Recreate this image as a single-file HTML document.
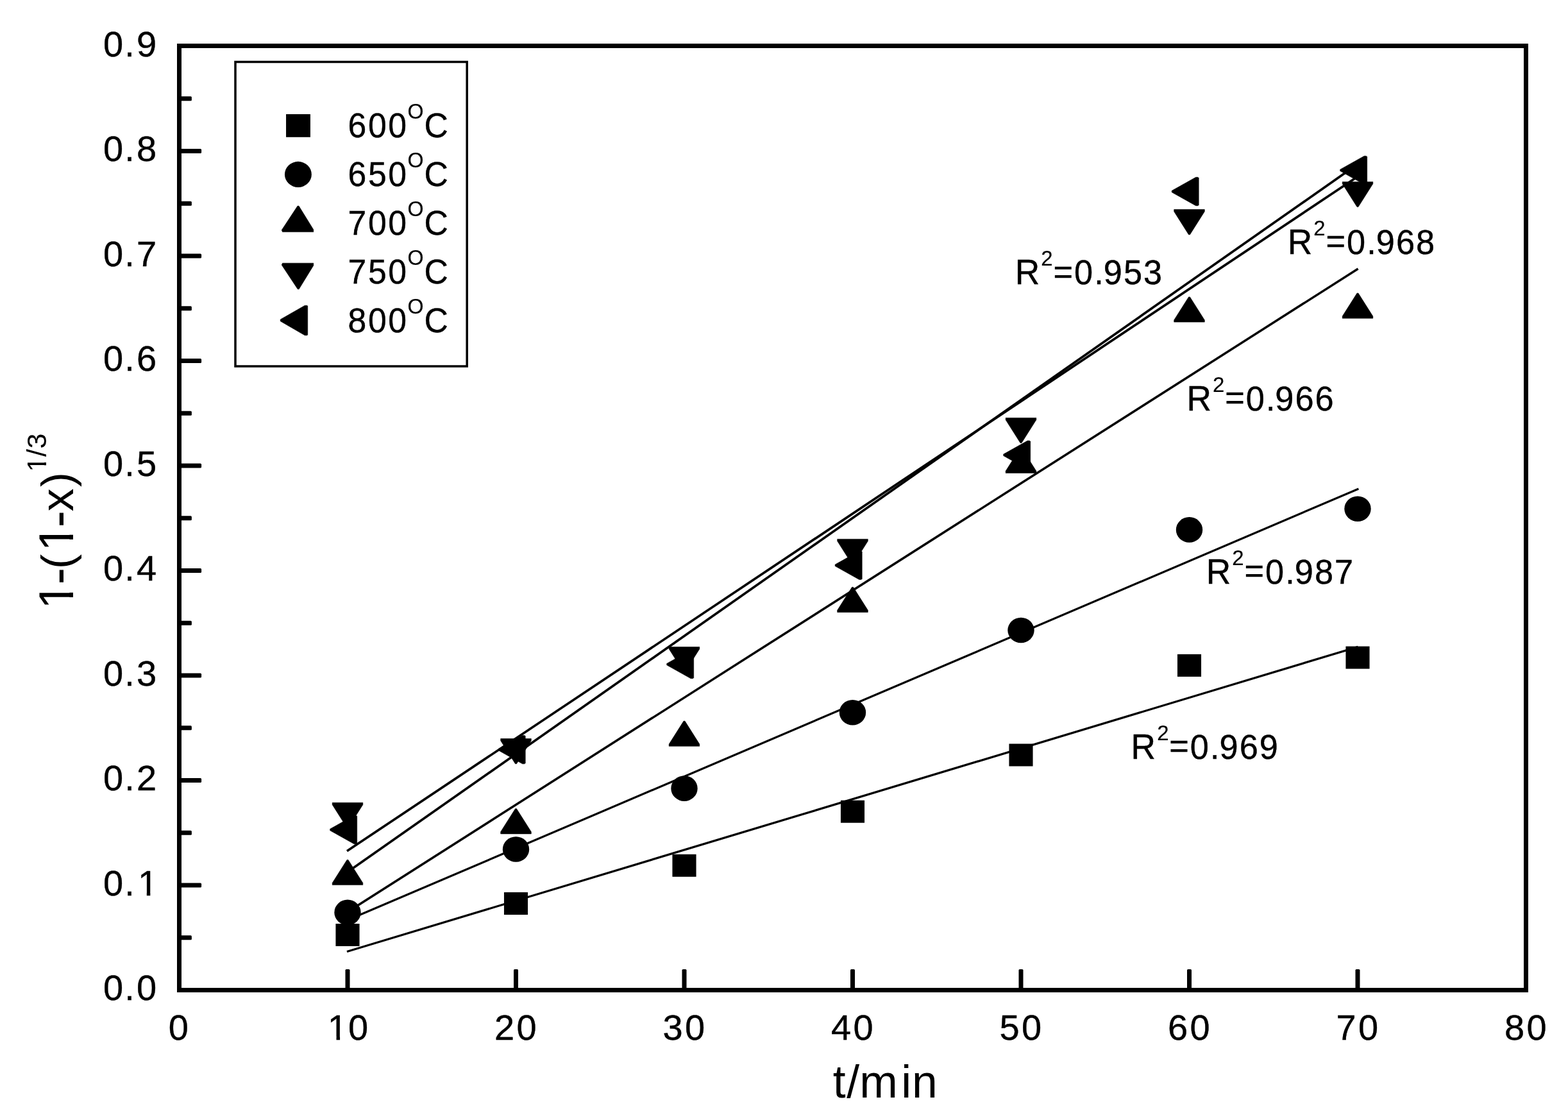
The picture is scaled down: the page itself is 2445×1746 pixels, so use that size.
<!DOCTYPE html>
<html lang="en"><head><meta charset="utf-8"><title>1-(1-x)1/3 - t/min</title>
<style>
html,body{margin:0;padding:0;background:#fff;}
body{width:2445px;height:1746px;overflow:hidden;}
svg{display:block;}
text{font-family:"Liberation Sans",sans-serif;fill:#000;stroke:#000;stroke-width:0.4px;white-space:pre;}
.m{fill:#000;stroke:#000;stroke-width:0.6px;stroke-linejoin:round;}
.k{fill:#fff;stroke:none;}
text.t0{stroke:none;}
</style></head><body>
<svg width="2445" height="1746" viewBox="0 0 2445 1746">
<rect x="0" y="0" width="2445" height="1746" fill="#fff"/>
<g stroke="#000" fill="none">
<line x1="541" y1="1326.8" x2="2117.5" y2="275" stroke-width="3.7"/>
<line x1="541" y1="1360" x2="2117.5" y2="255.5" stroke-width="3.7"/>
<line x1="541" y1="1422.2" x2="2117.6" y2="419" stroke-width="3.5"/>
<line x1="541" y1="1434.8" x2="2118.4" y2="762" stroke-width="3.2"/>
<line x1="541" y1="1483.5" x2="2117.5" y2="1008.3" stroke-width="3.3"/>
</g>
<g fill="#000">
<rect x="523.45" y="1440" width="37.1" height="35"/>
<rect x="785.95" y="1391" width="37.1" height="35"/>
<rect x="1048.45" y="1331.8" width="37.1" height="35"/>
<rect x="1310.95" y="1247.7" width="37.1" height="35"/>
<rect x="1573.45" y="1159.5" width="37.1" height="35"/>
<rect x="1835.95" y="1019.9" width="37.1" height="35"/>
<rect x="2098.45" y="1007.6" width="37.1" height="35"/>
<ellipse cx="542" cy="1422.4" rx="20.7" ry="19.8"/>
<ellipse cx="804.5" cy="1324" rx="20.7" ry="19.8"/>
<ellipse cx="1067" cy="1229.1" rx="20.7" ry="19.8"/>
<ellipse cx="1329.5" cy="1110.7" rx="20.7" ry="19.8"/>
<ellipse cx="1592" cy="982.5" rx="20.7" ry="19.8"/>
<ellipse cx="1854.5" cy="825.9" rx="20.7" ry="19.8"/>
<ellipse cx="2117" cy="793.2" rx="20.7" ry="19.8"/>
</g>
<g class="m">
<polygon points="541,1340.4 543,1340.4 565.8,1376.4 565.8,1379.6 518.2,1379.6 518.2,1376.4"/>
<polygon points="803.5,1260.7 805.5,1260.7 828.3,1296.7 828.3,1299.9 780.7,1299.9 780.7,1296.7"/>
<polygon points="1066,1124.1 1068,1124.1 1090.8,1160.1 1090.8,1163.3 1043.2,1163.3 1043.2,1160.1"/>
<polygon points="1328.5,915.3 1330.5,915.3 1353.3,951.3 1353.3,954.5 1305.7,954.5 1305.7,951.3"/>
<polygon points="1591,698.3 1593,698.3 1615.8,734.3 1615.8,737.5 1568.2,737.5 1568.2,734.3"/>
<polygon points="1853.5,462.9 1855.5,462.9 1878.3,498.9 1878.3,502.1 1830.7,502.1 1830.7,498.9"/>
<polygon points="2116,457 2118,457 2140.8,493 2140.8,496.2 2093.2,496.2 2093.2,493"/>
<polygon points="541,1290.5 543,1290.5 565.8,1254.5 565.8,1251.3 518.2,1251.3 518.2,1254.5"/>
<polygon points="803.5,1190.7 805.5,1190.7 828.3,1154.7 828.3,1151.5 780.7,1151.5 780.7,1154.7"/>
<polygon points="1066,1047.7 1068,1047.7 1090.8,1011.7 1090.8,1008.5 1043.2,1008.5 1043.2,1011.7"/>
<polygon points="1328.5,879.6 1330.5,879.6 1353.3,843.6 1353.3,840.4 1305.7,840.4 1305.7,843.6"/>
<polygon points="1591,690.6 1593,690.6 1615.8,654.6 1615.8,651.4 1568.2,651.4 1568.2,654.6"/>
<polygon points="1853.5,365.8 1855.5,365.8 1878.3,329.8 1878.3,326.6 1830.7,326.6 1830.7,329.8"/>
<polygon points="2116,322.6 2118,322.6 2140.8,286.6 2140.8,283.4 2093.2,283.4 2093.2,286.6"/>
<polygon points="514.7,1292.3 514.7,1294.7 552.2,1315.7 555.5,1315.7 556.7,1314.5 556.7,1272.5 555.5,1271.3 552.2,1271.3"/>
<polygon points="777.2,1167.4 777.2,1169.8 814.7,1190.8 818,1190.8 819.2,1189.6 819.2,1147.6 818,1146.4 814.7,1146.4"/>
<polygon points="1039.7,1034.4 1039.7,1036.8 1077.2,1057.8 1080.5,1057.8 1081.7,1056.6 1081.7,1014.6 1080.5,1013.4 1077.2,1013.4"/>
<polygon points="1302.2,880.1 1302.2,882.5 1339.7,903.5 1343,903.5 1344.2,902.3 1344.2,860.3 1343,859.1 1339.7,859.1"/>
<polygon points="1564.7,708.1 1564.7,710.5 1602.2,731.5 1605.5,731.5 1606.7,730.3 1606.7,688.3 1605.5,687.1 1602.2,687.1"/>
<polygon points="1827.2,297.3 1827.2,299.7 1864.7,320.7 1868,320.7 1869.2,319.5 1869.2,277.5 1868,276.3 1864.7,276.3"/>
<polygon points="2089.7,264.2 2089.7,266.6 2127.2,287.6 2130.5,287.6 2131.7,286.4 2131.7,244.4 2130.5,243.2 2127.2,243.2"/>
</g>
<rect x="279.5" y="71.5" width="2100" height="1472" fill="none" stroke="#000" stroke-width="7"/>
<g fill="#000">
<rect x="279.5" y="1458.34" width="19.4" height="7" rx="1.6"/>
<rect x="279.5" y="1376.59" width="34.6" height="7" rx="1.6"/>
<rect x="279.5" y="1294.83" width="19.4" height="7" rx="1.6"/>
<rect x="279.5" y="1213.08" width="34.6" height="7" rx="1.6"/>
<rect x="279.5" y="1131.32" width="19.4" height="7" rx="1.6"/>
<rect x="279.5" y="1049.57" width="34.6" height="7" rx="1.6"/>
<rect x="279.5" y="967.81" width="19.4" height="7" rx="1.6"/>
<rect x="279.5" y="886.06" width="34.6" height="7" rx="1.6"/>
<rect x="279.5" y="804.3" width="19.4" height="7" rx="1.6"/>
<rect x="279.5" y="722.55" width="34.6" height="7" rx="1.6"/>
<rect x="279.5" y="640.79" width="19.4" height="7" rx="1.6"/>
<rect x="279.5" y="559.04" width="34.6" height="7" rx="1.6"/>
<rect x="279.5" y="477.28" width="19.4" height="7" rx="1.6"/>
<rect x="279.5" y="395.53" width="34.6" height="7" rx="1.6"/>
<rect x="279.5" y="313.78" width="19.4" height="7" rx="1.6"/>
<rect x="279.5" y="232.02" width="34.6" height="7" rx="1.6"/>
<rect x="279.5" y="150.26" width="19.4" height="7" rx="1.6"/>
<rect x="538.5" y="1510.9" width="7" height="32.6" rx="1.6"/>
<rect x="801" y="1510.9" width="7" height="32.6" rx="1.6"/>
<rect x="1063.5" y="1510.9" width="7" height="32.6" rx="1.6"/>
<rect x="1326" y="1510.9" width="7" height="32.6" rx="1.6"/>
<rect x="1588.5" y="1510.9" width="7" height="32.6" rx="1.6"/>
<rect x="1851" y="1510.9" width="7" height="32.6" rx="1.6"/>
<rect x="2113.5" y="1510.9" width="7" height="32.6" rx="1.6"/>
</g>
<g>
<text transform="translate(0,1559.4) scale(1,1.000)" font-size="56" x="160.95 194.15 213" y="0">0.0</text>
<text transform="translate(0,1395.89) scale(1,1.000)" font-size="56" x="160.95 194.15 215" y="0">0.1</text>
<rect class="k" x="218.07" y="1390.81" width="10.72" height="6.78"/><rect class="k" x="234.33" y="1390.81" width="10.28" height="6.78"/>
<text transform="translate(0,1232.38) scale(1,1.000)" font-size="56" x="160.95 194.15 213" y="0">0.2</text>
<text transform="translate(0,1068.87) scale(1,1.000)" font-size="56" x="160.95 194.15 213" y="0">0.3</text>
<text transform="translate(0,905.36) scale(1,1.000)" font-size="56" x="160.95 194.15 213" y="0">0.4</text>
<text transform="translate(0,741.85) scale(1,1.000)" font-size="56" x="160.95 194.15 213" y="0">0.5</text>
<text transform="translate(0,578.34) scale(1,1.000)" font-size="56" x="160.95 194.15 213" y="0">0.6</text>
<text transform="translate(0,414.83) scale(1,1.000)" font-size="56" x="160.95 194.15 213" y="0">0.7</text>
<text transform="translate(0,251.32) scale(1,1.000)" font-size="56" x="160.95 194.15 213" y="0">0.8</text>
<text transform="translate(0,87.81) scale(1,1.000)" font-size="56" x="160.95 194.15 213" y="0">0.9</text>
<text transform="translate(0,1621) scale(1,1.000)" font-size="56" x="262.8" y="0">0</text>
<text transform="translate(0,1621) scale(1,1.000)" font-size="56" x="510.75 542.9" y="0">10</text>
<rect class="k" x="513.82" y="1615.92" width="10.72" height="6.78"/><rect class="k" x="530.08" y="1615.92" width="10.28" height="6.78"/>
<text transform="translate(0,1621) scale(1,1.000)" font-size="56" x="771 805.4" y="0">20</text>
<text transform="translate(0,1621) scale(1,1.000)" font-size="56" x="1033.5 1067.9" y="0">30</text>
<text transform="translate(0,1621) scale(1,1.000)" font-size="56" x="1296 1330.4" y="0">40</text>
<text transform="translate(0,1621) scale(1,1.000)" font-size="56" x="1558.5 1592.9" y="0">50</text>
<text transform="translate(0,1621) scale(1,1.000)" font-size="56" x="1821 1855.4" y="0">60</text>
<text transform="translate(0,1621) scale(1,1.000)" font-size="56" x="2083.5 2117.9" y="0">70</text>
<text transform="translate(0,1621) scale(1,1.000)" font-size="56" x="2346 2380.4" y="0">80</text>
</g>
<text transform="translate(0,1711.05) scale(1,1.010)" font-size="71.5" x="1298.85 1320.25 1340.3 1405.35 1422.1" y="0" class="t0">t/min</text>
<g transform="translate(114.1,0) rotate(-90)">
<text class="t0" font-size="71.5"><tspan font-size="75.3" x="-949.7" y="0">1</tspan><tspan font-size="79" x="-911.15" y="2.9">-</tspan><tspan font-size="69.3" x="-886.9" y="-0.7">(</tspan><tspan font-size="75.3" x="-859.6" y="0">1</tspan><tspan font-size="79" x="-822.15" y="2.9">-</tspan><tspan font-size="71.5" x="-797.3" y="0">x</tspan><tspan font-size="69.3" x="-759.2" y="-0.7">)</tspan><tspan font-size="43" x="-735.8 -711.9 -699.5" y="-42.1">1/3</tspan></text>
<rect class="k" x="-945.16" y="-6.53" width="14.1" height="8.23"/><rect class="k" x="-923.81" y="-6.53" width="13.51" height="8.23"/>
<rect class="k" x="-855.06" y="-6.53" width="14.1" height="8.23"/><rect class="k" x="-833.71" y="-6.53" width="13.51" height="8.23"/>
<rect class="k" x="-733.72" y="-46.21" width="8.44" height="5.81"/><rect class="k" x="-720.89" y="-46.21" width="8.1" height="5.81"/>
</g>
<rect x="367" y="96.5" width="361.2" height="474.5" fill="none" stroke="#000" stroke-width="3.5"/>
<g fill="#000">
<rect x="446.05" y="178" width="37.9" height="35.8"/>
<ellipse cx="464.9" cy="271.9" rx="20.95" ry="20.05"/>
</g>
<g class="m">
<polygon points="464,321.1 466,321.1 488.8,357.9 488.8,361.6 440.5,361.6 439.2,358.7"/>
<polygon points="440.5,410.2 488.8,410.2 488.8,413.9 466.2,450.8 464.2,450.8 439.2,413"/>
<polygon points="437.2,498 437.2,500.7 475.3,522.8 478.8,522.8 479.75,521.9 479.75,477.1 478.8,476.2 475.3,476.2"/>
</g>
<g font-size="51.7">
<text transform="translate(0,214.1) scale(1,1.026)" x="542.55 574.08 605.13" y="0">600<tspan font-size="32.2" x="635.6" dy="-28.75" stroke-width="0.15">O</tspan><tspan x="661.52" dy="28.75">C</tspan></text>
<text transform="translate(0,290.1) scale(1,1.026)" x="542.55 574.08 605.13" y="0">650<tspan font-size="32.2" x="635.6" dy="-28.75" stroke-width="0.15">O</tspan><tspan x="661.52" dy="28.75">C</tspan></text>
<text transform="translate(0,366.1) scale(1,1.026)" x="542.55 574.08 605.13" y="0">700<tspan font-size="32.2" x="635.6" dy="-28.75" stroke-width="0.15">O</tspan><tspan x="661.52" dy="28.75">C</tspan></text>
<text transform="translate(0,442.1) scale(1,1.026)" x="542.55 574.08 605.13" y="0">750<tspan font-size="32.2" x="635.6" dy="-28.75" stroke-width="0.15">O</tspan><tspan x="661.52" dy="28.75">C</tspan></text>
<text transform="translate(0,518.1) scale(1,1.026)" x="542.55 574.08 605.13" y="0">800<tspan font-size="32.2" x="635.6" dy="-28.75" stroke-width="0.15">O</tspan><tspan x="661.52" dy="28.75">C</tspan></text>
</g>
<g font-size="52.3">
<text transform="translate(0,443) scale(1,1.030)" x="1582.73" y="0" font-size="53.3">R<tspan font-size="33" x="1623.34" dy="-27.86" stroke-width="0.15">2</tspan><tspan font-size="52.3" x="1642.45 1675.06 1706.32 1720.65 1751.9 1782.9" dy="26.41 1.46 0 0 0 0">=0.953</tspan></text>
<text transform="translate(0,395.8) scale(1,1.030)" x="2007.73" y="0" font-size="53.3">R<tspan font-size="33" x="2048.34" dy="-27.86" stroke-width="0.15">2</tspan><tspan font-size="52.3" x="2067.45 2100.06 2131.32 2145.65 2176.9 2207.9" dy="26.41 1.46 0 0 0 0">=0.968</tspan></text>
<text transform="translate(0,639.5) scale(1,1.030)" x="1850.43" y="0" font-size="53.3">R<tspan font-size="33" x="1891.04" dy="-27.86" stroke-width="0.15">2</tspan><tspan font-size="52.3" x="1910.15 1942.76 1974.02 1988.35 2019.6 2050.6" dy="26.41 1.46 0 0 0 0">=0.966</tspan></text>
<text transform="translate(0,909.9) scale(1,1.030)" x="1880.73" y="0" font-size="53.3">R<tspan font-size="33" x="1921.34" dy="-27.86" stroke-width="0.15">2</tspan><tspan font-size="52.3" x="1940.45 1973.06 2004.32 2018.65 2049.9 2080.9" dy="26.41 1.46 0 0 0 0">=0.987</tspan></text>
<text transform="translate(0,1182.8) scale(1,1.030)" x="1763.53" y="0" font-size="53.3">R<tspan font-size="33" x="1804.14" dy="-27.86" stroke-width="0.15">2</tspan><tspan font-size="52.3" x="1823.25 1855.86 1887.12 1901.45 1932.7 1963.7" dy="26.41 1.46 0 0 0 0">=0.969</tspan></text>
</g>
</svg>
</body></html>
